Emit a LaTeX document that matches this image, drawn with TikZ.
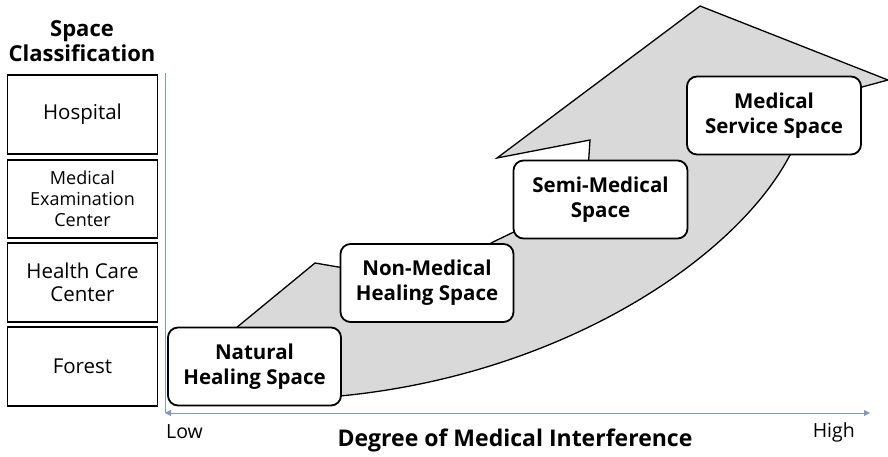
\documentclass[tikz,border=0pt]{standalone}
\usepackage{fontspec}
\setmainfont{Open Sans}
\usepackage{tikz}
\usetikzlibrary{positioning,arrows.meta}
\definecolor{flowgray}{RGB}{217,217,217}
\definecolor{axisblue}{RGB}{125,155,195}

\begin{document}
\begin{tikzpicture}[x=1pt, y=-1pt,
    classbox/.style={draw, line width=1.2pt, minimum width=150pt, align=center,
                     font=\fontsize{20.5}{23}\selectfont, inner sep=0pt},
    spacebox/.style={draw, fill=white, line width=1.8pt, rounded corners=10pt,
                     minimum width=173pt, minimum height=78pt, align=center,
                     font=\bfseries\fontsize{20.5}{25}\selectfont, inner sep=0pt},
    axislabel/.style={font=\fontsize{19.5}{22}\selectfont}]
      \useasboundingbox (0, 0) rectangle (888, 456);
      % space classification column
      \node (title) [font=\bfseries\fontsize{22}{25}\selectfont, align=center] at (82, 41) {Space\\Classification};
      \node (hospital) [classbox, minimum height=79pt] at (82.5, 114.5) {Hospital};
      \node (exam) [classbox, minimum height=78pt, font=\fontsize{18}{21}\selectfont] at (82.5, 199) {Medical\\Examination\\Center};
      \node (care) [classbox, minimum height=79pt] at (82.5, 282.5) {Health Care\\Center};
      \node (forest) [classbox, minimum height=79pt] at (82.5, 366.5) {Forest};
      % big curved arrow
      \draw [fill=flowgray, line width=1.3pt, line join=miter]
            (240, 396) -- (236, 328) -- (315, 263) -- (350, 269) -- (480, 250)
            -- (493, 242) -- (520, 229) -- (588, 170) -- (590, 140) -- (497, 158)
            -- (700, 6) -- (888, 80) -- (862, 87) -- (820, 140) -- (790, 155)
            .. controls (735, 260) and (560, 375) .. (340, 396) -- cycle;
      % spaces
      \node (natural) [spacebox] at (254.5, 366.5) {Natural\\Healing Space};
      \node (nonmed) [spacebox] at (427, 283) {Non-Medical\\Healing Space};
      \node (semi) [spacebox, minimum width=174pt] at (600.5, 199.5) {Semi-Medical\\Space};
      \node (service) [spacebox, minimum width=174pt] at (774, 115.5) {Medical\\Service Space};
      % axis
      \coordinate (top) at (165, 73);
      \coordinate (origin) at (165, 413);
      \coordinate (far) at (870, 413);
      \draw [axisblue, line width=1pt] (top) -- (origin);
      \draw [axisblue, line width=1pt, {Triangle[length=6pt, width=6pt]}-{Triangle[length=6pt, width=6pt]}] (origin) -- (far);
      \node (low) [axislabel, anchor=west, inner sep=0pt] at (166, 432) {Low};
      \node (high) [axislabel, anchor=east, inner sep=0pt] at (855, 432) {High};
      \node (degree) [font=\bfseries\fontsize{23}{26}\selectfont] at (515, 440) {Degree of Medical Interference};
\end{tikzpicture}
\end{document}
